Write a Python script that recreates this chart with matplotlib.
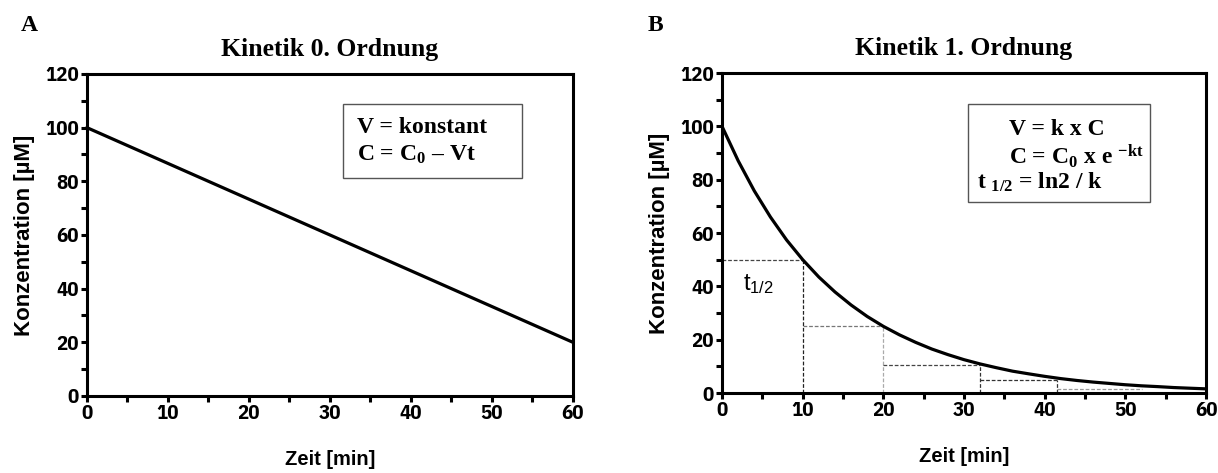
"""
plot.py
-------
Zero- and first-order kinetics, two panels side by side.
"""

import matplotlib
matplotlib.use("Agg")
import matplotlib.pyplot as plt
from matplotlib.patches import Rectangle
from matplotlib.ticker import MultipleLocator

# Panel A: zero-order decay (linear)
time_a = [0, 60]
conc_a = [100, 20]

# Panel B: first-order decay, read every 2 min
time_b = [0, 2, 4, 6, 8, 10, 12, 14, 16, 18, 20, 22, 24, 26, 28, 30,
          32, 34, 36, 38, 40, 42, 44, 46, 48, 50, 52, 54, 56, 58, 60]
conc_b = [100, 87.1, 75.8, 66.0, 57.4, 50.0, 43.5, 37.9, 33.0, 28.7, 25.0,
          21.8, 19.0, 16.5, 14.4, 12.5, 10.9, 9.5, 8.2, 7.2, 6.25, 5.4,
          4.7, 4.1, 3.6, 3.1, 2.7, 2.4, 2.05, 1.8, 1.56]

# half-life steps (dashed guide lines)
step_x = [0, 10, 20, 32, 41.5, 52]
step_y = [50, 25, 10.5, 4.7, 1.6]
step_colors = ["#444444", "#777777", "#444444", "#333333", "#999999"]
vert_colors = ["#222222", "#aaaaaa", "#333333", "#333333"]

# formula boxes
formulas_a = ["V = konstant", "C = C$_0$ – Vt"]
formulas_b = ["V = k x C", "C = C$_0$ x e $^{-kt}$", "t $_{1/2}$ = ln2 / k"]

TICKS = ["IBM Plex Sans Condensed", "DejaVu Sans"]
SANS = ["Liberation Sans", "DejaVu Sans"]
SERIF = ["Liberation Serif", "DejaVu Serif"]

plt.rcParams["mathtext.fontset"] = "custom"
plt.rcParams["mathtext.rm"] = "Liberation Serif:bold"
plt.rcParams["mathtext.bf"] = "Liberation Serif:bold"
plt.rcParams["mathtext.it"] = "Liberation Serif:bold"
plt.rcParams["mathtext.sf"] = "Liberation Sans"

fig = plt.figure(figsize=(12.18, 4.73), dpi=100)
ax_a = fig.add_axes([0.0714, 0.1628, 0.399, 0.6808])
ax_b = fig.add_axes([0.5928, 0.1691, 0.3974, 0.6765])


def style_axes(ax, title):
    ax.set_xlim(0, 60)
    ax.set_ylim(0, 120)
    ax.xaxis.set_major_locator(MultipleLocator(10))
    ax.xaxis.set_minor_locator(MultipleLocator(5))
    ax.yaxis.set_major_locator(MultipleLocator(20))
    ax.yaxis.set_minor_locator(MultipleLocator(10))
    for sp in ax.spines.values():
        sp.set_linewidth(2.2)
    ax.tick_params(which="both", direction="out", width=2.2, length=4.5,
                   top=False, right=False, pad=1.5)
    for lab in ax.get_xticklabels() + ax.get_yticklabels():
        lab.set_family(TICKS)
        lab.set_fontweight("bold")
        lab.set_fontsize(15)
    ax.set_xlabel("Zeit [min]", family=SANS, fontweight="bold",
                  fontsize=14.5, labelpad=19)
    ax.set_ylabel("Konzentration [µM]", family=SANS, fontweight="bold",
                  fontsize=16, labelpad=7)
    ax.set_title(title, family=SERIF, fontweight="bold", fontsize=18.5, pad=13)


def formula_box(ax, x0, x1, y0, y1):
    ax.add_patch(Rectangle((x0, y0), x1 - x0, y1 - y0, facecolor="white",
                           edgecolor="#555555", linewidth=1.0, zorder=3))


# Panel A
ax_a.plot(time_a, conc_a, color="black", linewidth=2.3, clip_on=False)
style_axes(ax_a, "Kinetik 0. Ordnung")
formula_box(ax_a, 31.6, 53.7, 81.2, 108.8)
for line, x, y in zip(formulas_a, [33.3, 33.3], [101.0, 90.9]):
    ax_a.text(x, y, line, family=SERIF, fontweight="bold", fontsize=17,
              va="center_baseline", ha="left", zorder=4)
fig.text(0.017, 0.935, "A", family=SERIF, fontweight="bold", fontsize=17)

# Panel B
for i, y in enumerate(step_y):
    ax_b.plot([step_x[i], step_x[i + 1]], [y, y], linestyle="--",
              dashes=(3, 1.5), color=step_colors[i], linewidth=0.9)
    if i < len(step_y) - 1:
        ax_b.plot([step_x[i + 1], step_x[i + 1]], [0, y], linestyle="--",
                  dashes=(3, 1.5), color=vert_colors[i], linewidth=0.9)
ax_b.plot(time_b, conc_b, color="black", linewidth=2.3, clip_on=False)
style_axes(ax_b, "Kinetik 1. Ordnung")
ax_b.text(2.6, 38.5, "$\\mathsf{t_{1/2}}$", fontsize=17)
formula_box(ax_b, 30.5, 53.1, 71.6, 108.4)
for line, x, y in zip(formulas_b, [35.6, 35.6, 31.6], [99.7, 90.0, 79.9]):
    ax_b.text(x, y, line, family=SERIF, fontweight="bold", fontsize=17,
              va="center_baseline", ha="left", zorder=4)
fig.text(0.532, 0.935, "B", family=SERIF, fontweight="bold", fontsize=17)

fig.savefig("out.png", dpi=100)
